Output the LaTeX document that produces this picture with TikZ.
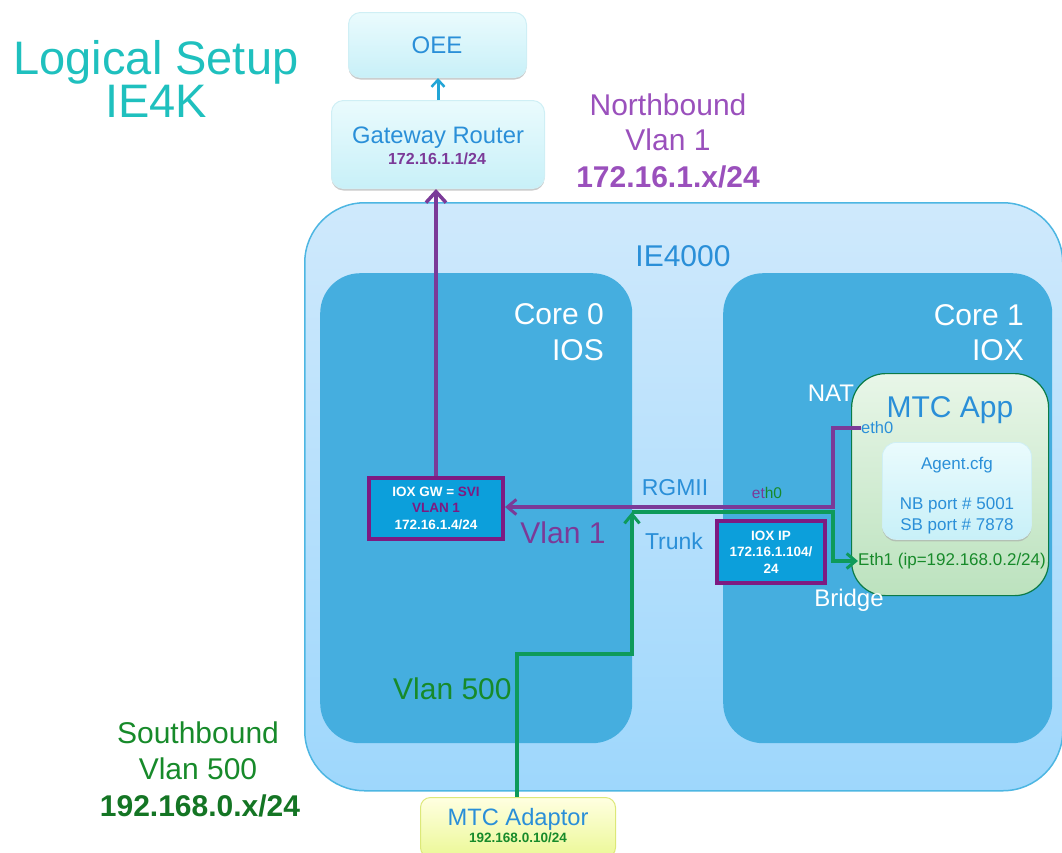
\documentclass[tikz,border=0pt]{standalone}
\usepackage{fontspec}
\setmainfont{Liberation Sans}
\usetikzlibrary{arrows.meta,shadows,calc}
\definecolor{corefill}{HTML}{45AEDF}
\definecolor{outerline}{HTML}{4DB6E2}
\definecolor{outertop}{HTML}{CFE9FC}
\definecolor{outerbot}{HTML}{9ED7FC}
\definecolor{txtblue}{HTML}{2A8FD8}
\definecolor{pur}{HTML}{7B3A98}
\definecolor{headpur}{HTML}{9A50BC}
\definecolor{darkpur}{HTML}{7D1A82}
\definecolor{grn}{HTML}{0E9A5A}
\definecolor{txtgrn}{HTML}{178A2A}
\definecolor{teal}{HTML}{1FC0BE}
\definecolor{boxfill}{HTML}{0C9FDB}
\definecolor{cyantop}{HTML}{EAFBFD}
\definecolor{cyanbot}{HTML}{C8F0F8}
\definecolor{cyanedge}{HTML}{CFEFF5}
\definecolor{yeltop}{HTML}{FFFFE1}
\definecolor{yelbot}{HTML}{EBF896}
\definecolor{yeledge}{HTML}{DCE878}
\definecolor{apptop}{HTML}{E8F6E8}
\definecolor{appbot}{HTML}{BCE2BE}
\definecolor{arrowcyan}{HTML}{22A5D6}
\newcommand{\fs}[1]{\fontsize{#1}{#1}\selectfont}
\tikzset{
  px/.style={x=1pt,y=-1pt},
  softshadow/.style={drop shadow={shadow xshift=0pt,shadow yshift=-2pt,fill=black!35,opacity=.6}},
  cyanbox/.style={rounded corners=12pt,draw=cyanedge,line width=1pt,top color=cyantop,bottom color=cyanbot,
    softshadow,inner sep=0pt,anchor=north west},
  corebox/.style={fill=corefill,rounded corners=40pt,inner sep=0pt,anchor=north west},
  ipbox/.style={fill=boxfill,draw=darkpur,line width=4pt,inner sep=0pt,anchor=north west,softshadow},
  lab/.style={inner sep=0pt,align=center},
  iptext/.style={lab,text=white,font=\fs{13.5}\bfseries},
  purline/.style={draw=pur,line width=4pt},
  grnline/.style={draw=grn,line width=3.5pt},
  tip/.style={-{Straight Barb[length=9pt,width=15pt,line width=3pt]}},
  bigtip/.style={-{Straight Barb[length=11pt,width=20pt,line width=3.5pt]}},
}
\begin{document}
\begin{tikzpicture}[px]
\useasboundingbox (0,0) rectangle (1062,852);
\begin{scope}
\clip (0,0) rectangle (1062,852);
% containers
\node[name=outer,draw=outerline,line width=1.5pt,rounded corners=60pt,top color=outertop,bottom color=outerbot,
  minimum width=758pt,minimum height=588pt,anchor=north west,inner sep=0pt] at (304,202) {};
\node[corebox,name=core0,minimum width=312pt,minimum height=470pt] at (320,273) {};
\node[corebox,name=core1,minimum width=329pt,minimum height=470pt] at (723,273) {};
% top boxes
\node[cyanbox,name=oee,minimum width=178pt,minimum height=65pt] at (348,12) {};
\node[cyanbox,name=gw,minimum width=213pt,minimum height=88pt] at (331,100) {};
\node[lab,text=txtblue,font=\fs{24}] at (437,45) {OEE};
\node[lab,text=txtblue,font=\fs{23.8}] at (438,138) {Gateway Router};
\node[lab,text=pur,font=\fs{16}\bfseries] at (437,159) {172.16.1.1/24};
% adaptor
\node[name=adaptor,rounded corners=10pt,draw=yeledge,line width=1pt,
  top color=yeltop,bottom color=yelbot,
  minimum width=195pt,minimum height=60pt,anchor=north west,inner sep=0pt] at (420,797) {};
\node[lab,text=txtblue,font=\fs{23.7}] at (518,819) {MTC Adaptor};
\node[lab,text=txtgrn,font=\fs{13.5}\bfseries] at (518,838) {192.168.0.10/24};
% NAT sits under the app box
\node[lab,text=white,font=\fs{24}] at (831,393) {NAT};
% MTC App
\node[name=app,rounded corners=34pt,draw=grn!80!black,line width=1.2pt,
  top color=apptop,bottom color=appbot,
  minimum width=197pt,minimum height=222pt,anchor=north west,inner sep=0pt] at (851,373) {};
\node[name=agent,rounded corners=14pt,draw=cyanedge,line width=.8pt,top color=cyantop,bottom color=cyanbot,
  softshadow,minimum width=149pt,minimum height=97pt,anchor=north west,inner sep=0pt] at (882,442) {};
% headline texts
\node[lab,text=teal,font=\fs{47}] at (156,62) {Logical Setup};
\node[lab,text=teal,font=\fs{47}] at (156,101) {IE4K};
\node[lab,text=headpur,font=\fs{30}] at (668,105) {Northbound};
\node[lab,text=headpur,font=\fs{30}] at (668,140) {Vlan 1};
\node[lab,text=headpur,font=\fs{30}\bfseries] at (668,177) {172.16.1.x/24};
\node[lab,text=txtgrn,font=\fs{30}] at (198,733) {Southbound};
\node[lab,text=txtgrn,font=\fs{30}] at (198,769) {Vlan 500};
\node[lab,text=txtgrn!85!black,font=\fs{30}\bfseries] at (200,806) {192.168.0.x/24};
% region labels
\node[lab,text=txtblue,font=\fs{30}] at (683,256) {IE4000};
\node[lab,text=white,font=\fs{30},anchor=east] at (604,314) {Core 0};
\node[lab,text=white,font=\fs{30},anchor=east] at (604,350) {IOS};
\node[lab,text=white,font=\fs{30},anchor=east] at (1024,315) {Core 1};
\node[lab,text=white,font=\fs{30},anchor=east] at (1024,350) {IOX};
\node[lab,text=txtblue,font=\fs{30}] at (950,410) {MTC App};
\node[lab,text=txtblue,font=\fs{17}] at (957,465) {Agent.cfg};
\node[lab,text=txtblue,font=\fs{17}] at (957,505) {NB port \# 5001};
\node[lab,text=txtblue,font=\fs{17}] at (957,526) {SB port \# 7878};
\node[lab,text=white,font=\fs{24}] at (849,600) {Bridge};
% ip boxes
\node[ipbox,name=gwbox,minimum width=134pt,minimum height=61pt] at (367,476) {};
\node[iptext] at (436,492) {IOX GW = \textcolor{darkpur}{SVI}};
\node[iptext,text=darkpur] at (436,508) {VLAN 1};
\node[iptext] at (436,525) {172.16.1.4/24};
\node[ipbox,name=ipbox,minimum width=108pt,minimum height=62pt] at (715,519) {};
\node[iptext] at (771,536) {IOX IP};
\node[iptext] at (771,552) {172.16.1.104/};
\node[iptext] at (771,569) {24};
% link labels
\node[lab,text=txtblue,font=\fs{23}] at (675,488) {RGMII};
\node[lab,text=txtblue,font=\fs{23}] at (674,541) {Trunk};
\node[lab,text=pur,font=\fs{30}] at (563,533) {Vlan 1};
\node[lab,text=txtgrn,font=\fs{30},anchor=west] at (393,689) {Vlan 500};
\node[lab,font=\fs{15.5}] at (767,493) {\textcolor{pur}{et}\textcolor{txtgrn}{h0}};
\node[lab,name=etha,text=txtblue,font=\fs{16.5},anchor=west] at (861,428) {eth0};
\node[lab,name=ethb,text=txtgrn,font=\fs{17},anchor=west] at (858,561) {Eth1 (ip=192.168.0.2/24)};
% junctions
\coordinate (jp) at (833,507);
\coordinate (jg) at (632,512);
\coordinate (jg2) at (833,512);
\coordinate (ja) at (517,654);
\coordinate (jb) at (632,654);
% connectors
\draw[draw=arrowcyan,line width=3pt,-{Straight Barb[length=7pt,width=13pt,line width=2.5pt]}] (gw.north) -- (gw.north |- oee.south);
\draw[purline,bigtip] (gwbox.north) -- (gwbox.north |- gw.south);
\draw[purline,tip] (etha.west) -| (jp) -- (jp -| gwbox.east);
\draw[grnline,tip] (adaptor.north -| ja) -- (ja) -- (jb) -- (jg);
\draw[grnline,tip] (jg) -- (jg2) |- (ethb.west);
\end{scope}
\end{tikzpicture}
\end{document}
